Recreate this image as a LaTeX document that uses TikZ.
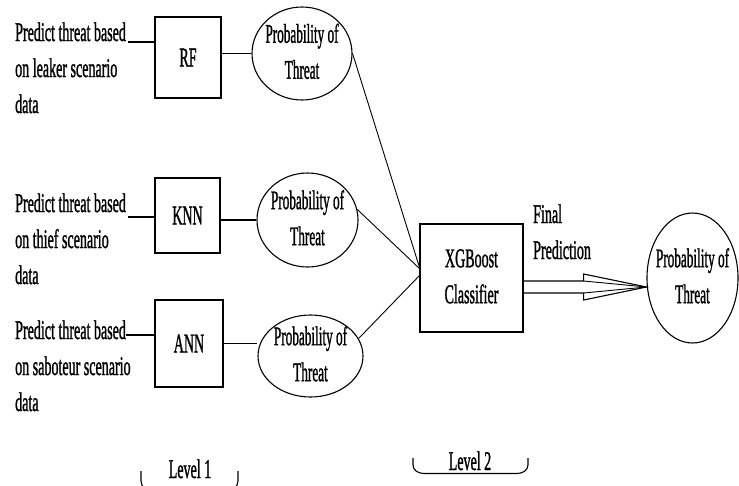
\documentclass[tikz,border=0pt]{standalone}
\usepackage{fontspec}
\setmainfont[AutoFakeBold=1.6]{Liberation Serif}
\usepackage{graphicx}
\usetikzlibrary{shapes.geometric,calc}
\newcommand\sq[1]{\scalebox{0.52}[1]{#1}}
\newcommand\sqe[1]{\scalebox{0.49}[1]{#1}}
\begin{document}
\begin{tikzpicture}[x=1pt,y=-1pt,
  every node/.style={inner sep=0pt},
  txt/.style={font=\fontsize{27}{36}\selectfont\bfseries},
  box/.style={draw,line width=1.3pt,rectangle,font=\fontsize{27}{36}\selectfont\bfseries},
  oval/.style={draw,line width=1.1pt,ellipse},
  conn/.style={line width=1.2pt},
  thinconn/.style={line width=0.9pt},
  brk/.style={line width=1.1pt}]
\clip (0,0) rectangle (739,485);
\fill[white] (0,0) rectangle (739,485);

% input texts
\node[txt,anchor=base west] (t1) at (15,41) {\sq{\begin{tabular}[t]{@{}l@{}}Predict threat based\\on leaker scenario\\data\end{tabular}}};
\node[txt,anchor=base west] (t2) at (15,212) {\sq{\begin{tabular}[t]{@{}l@{}}Predict threat based\\on thief scenario\\data\end{tabular}}};
\node[txt,anchor=base west] (t3) at (15,339) {\sq{\begin{tabular}[t]{@{}l@{}}Predict threat based\\on saboteur scenario\\data\end{tabular}}};

% level-1 models
\node[box,minimum width=66pt,minimum height=81pt] (rf) at (188,57.5) {\sq{RF}};
\node[box,minimum width=65pt,minimum height=75pt] (knn) at (187.5,215.5) {\sq{KNN}};
\node[box,minimum width=68pt,minimum height=87pt] (ann) at (189,343.5) {\sq{ANN}};

% probability ellipses
\node[oval,minimum width=100pt,minimum height=93pt] (e1) at (302,53.5) {};
\node[txt] (p1) at (e1) {\sqe{\begin{tabular}{@{}c@{}}Probability of\\Threat\end{tabular}}};
\node[oval,minimum width=101pt,minimum height=94pt] (e2) at (307.5,220) {};
\node[txt] (p2) at (e2) {\sqe{\begin{tabular}{@{}c@{}}Probability of\\Threat\end{tabular}}};
\node[oval,minimum width=105pt,minimum height=82pt] (e3) at (310.5,356) {};
\node[txt] (p3) at (e3) {\sqe{\begin{tabular}{@{}c@{}}Probability of\\Threat\end{tabular}}};

% level-2
\node[box,minimum width=103pt,minimum height=108pt] (xgb) at (471.5,278) {\sq{\begin{tabular}{@{}c@{}}XGBoost\\Classifier\end{tabular}}};
\node[oval,minimum width=91pt,minimum height=130pt] (fc) at (692.5,278) {};
\node[txt] (pf) at (fc) {\sqe{\begin{tabular}{@{}c@{}}Probability of\\Threat\end{tabular}}};
\node[txt,anchor=base west] (fp) at (533,223) {\sq{\begin{tabular}[t]{@{}l@{}}Final\\Prediction\end{tabular}}};

% connectors: inputs to models
\coordinate (c1) at (128,42);
\coordinate (c2) at (128,217);
\coordinate (c3) at (126,335);
\draw[conn] (c1) -- (c1 -| rf.west);
\draw[conn] (c2) -- (c2 -| knn.west);
\draw[conn] (c3) -- (c3 -| ann.west);

% models to ellipses
\draw[conn] (e1.west) -- (e1.west -| rf.east);
\draw[conn] (e2.west) -- (e2.west -| knn.east);
\draw[conn] (ann.east) -- (ann.east -| e3.west);

% ellipses to XGBoost
\coordinate (conv) at (420,269);
\coordinate (conv3) at (420,275);
\draw[thinconn] (e1.east) -- (conv);
\draw[thinconn] (e2.12) -- (conv);
\draw[thinconn] (e3.20) -- (conv3);

% hollow arrow
\draw[line width=1.1pt,line join=miter]
  ($(xgb.east)+(0,3)$) -- ($(xgb.east)+(60,3)$) -- ($(xgb.east)+(60,-4)$)
  -- ($(fc.west)+(0,9)$)
  -- ($(xgb.east)+(60,22)$) -- ($(xgb.east)+(60,15)$) -- ($(xgb.east)+(0,15)$);
\draw[thinconn] ($(xgb.east)+(60,3)$) -- ($(fc.west)+(0,9)$);
\draw[thinconn] ($(xgb.east)+(60,15)$) -- ($(fc.west)+(0,9)$);

% levels
\node[txt,anchor=base] (l1) at (190,478) {\sq{Level 1}};
\node[txt,anchor=base] (l2) at (470,470) {\sq{Level 2}};
\draw[brk] (141,471) -- (141,481) to[out=-90,in=180] (152,491) -- (227,491) to[out=0,in=-90] (238,481) -- (238,471);
\draw[brk] (413,458) -- (413,465) to[out=-90,in=180] (424,473.5) -- (517,473.5) to[out=0,in=-90] (528,465) -- (528,458);
\end{tikzpicture}
\end{document}
